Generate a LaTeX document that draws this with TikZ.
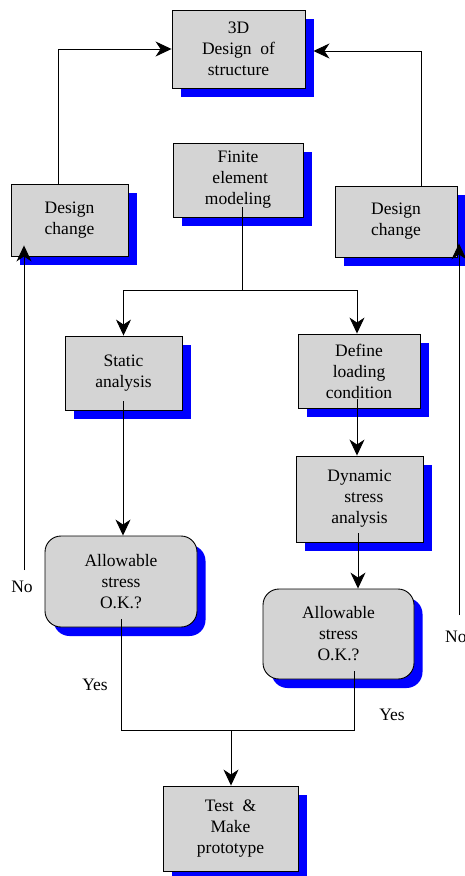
\documentclass[tikz,border=0pt]{standalone}
\usepackage{fontspec}
\setmainfont{Liberation Serif}
\usetikzlibrary{shadows,arrows.meta}
\definecolor{boxgray}{HTML}{D4D4D4}
\tikzset{
  shadowbox/.style={draw=black, line width=0.9pt, fill=boxgray, inner sep=0pt, align=center,
    font=\fontsize{17.5}{21}\selectfont,
    general shadow={fill=blue, shadow xshift=8.5pt, shadow yshift=-9pt}},
  roundbox/.style={shadowbox, rounded corners=16pt},
  conn/.style={line width=0.9pt, black},
  arr/.style={conn, -{Stealth[length=16pt,width=15pt,inset=5pt]}},
  lbl/.style={font=\fontsize{17.5}{21}\selectfont, inner sep=0pt}
}
\begin{document}
\begin{tikzpicture}[x=1pt,y=-1pt]
\useasboundingbox (0,0) rectangle (465,876);
\node[shadowbox, minimum width=133pt, minimum height=78pt] (d3) at (238.5,49) {3D\\Design\ \ of\\structure};
\node[shadowbox, minimum width=130pt, minimum height=74pt] (fe) at (238,180) {Finite\\\ element\\modeling};
\node[shadowbox, minimum width=117pt, minimum height=72pt] (dcl) at (69.5,220) {Design\\change};
\node[shadowbox, minimum width=122pt, minimum height=71pt] (dcr) at (396,221.5) {Design\\change};
\node[shadowbox, minimum width=117pt, minimum height=74pt] (st) at (123.5,373) {Static\\analysis};
\node[shadowbox, minimum width=122pt, minimum height=74pt] (dl) at (359,371) {Define\\loading\\condition};
\node[shadowbox, minimum width=127pt, minimum height=86pt] (dy) at (359.5,499) {Dynamic\\\ \ stress\\analysis};
\node[roundbox, minimum width=152pt, minimum height=91pt] (al) at (121,581.5) {Allowable\\stress\\O.K.?};
\node[roundbox, minimum width=151pt, minimum height=90pt] (ar) at (338.5,634) {Allowable\\stress\\O.K.?};
\node[shadowbox, minimum width=135pt, minimum height=85pt] (tp) at (230.5,828.5) {Test\ \ \&\\Make\\prototype};

\coordinate (split) at (242,290);
\coordinate (join) at (231,730);
\coordinate (nol) at (24,570);
\coordinate (nor) at (459,615);

% top loops
\draw[arr] (dcl.north -| 58,0) |- (d3.west |- 0,49);
\draw[arr] (dcr.north -| 421,0) |- ([xshift=8pt]d3.east |- 0,51);
% split from finite element
\draw[conn] ([yshift=10pt]fe.south -| split) -- (split);
\draw[arr] (split) -| (st.north);
\draw[arr] (split) -| (dl.north -| 357,0);
\draw[arr] ([yshift=9pt]dl.south -| 357,0) -- (dy.north -| 357,0);
\draw[arr] ([yshift=9pt]dy.south -| 358,0) -- (ar.north -| 358,0);
\draw[arr] ([yshift=9pt]st.south -| 123,0) -- (al.north -| 123,0);
% join
\draw[conn] ([yshift=8pt]al.south) |- (join) -| ([yshift=8pt]ar.south -| 354,0);
\draw[arr] (join) -- (tp.north -| join);
% No loops
\draw[arr] (nol) -- ([yshift=11pt]dcl.south -| nol);
\draw[arr] (nor) -- ([yshift=14pt]dcr.south -| nor);

\node[lbl] (no1) at (22,587) {No};
\node[lbl, anchor=west] (no2) at (445,637) {No};
\node[lbl] (yes1) at (95,685) {Yes};
\node[lbl] (yes2) at (392,715) {Yes};
\end{tikzpicture}
\end{document}
